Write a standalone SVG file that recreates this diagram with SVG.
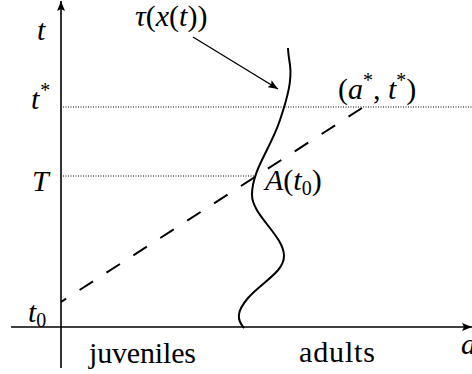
<svg xmlns="http://www.w3.org/2000/svg" width="472" height="374" viewBox="0 0 472 374">
<style>
.axis{stroke:#000;stroke-width:1.6;fill:none}
.dot{stroke:#000;stroke-width:1;stroke-dasharray:1 1.5;fill:none}
.dash{stroke:#000;stroke-width:2;stroke-dasharray:16 16;fill:none}
.curve{stroke:#000;stroke-width:2;fill:none}
text{font-family:'Liberation Serif','Times New Roman',serif;font-size:30px;fill:#000}
.m{font-style:italic}
.s{font-size:20px}
</style>
<defs>
<marker id="ah" viewBox="0 0 10 8" refX="10" refY="4" markerWidth="10" markerHeight="8" markerUnits="userSpaceOnUse" orient="auto">
<path d="M0,0 L10,4 L0,8 L2,4 Z" fill="#000"/>
</marker>
</defs>
<g id="connectors">
<line class="axis" x1="61" y1="368" x2="61" y2="1" marker-end="url(#ah)"/>
<line class="axis" x1="11" y1="327" x2="472" y2="327" marker-end="url(#ah)"/>
<line class="dot" x1="63" y1="107" x2="472" y2="107"/>
<line class="dot" x1="63" y1="176" x2="254" y2="176"/>
<line class="dash" x1="362" y1="108" x2="61" y2="302"/>
<path class="curve" d="M244,328 C237,320 236,312 248,298 C262,282 284,272 284,256 C284,236 252,215 252,195 C252,170 270,150 280,120 C288,96 292,80 290,65 C289,58 288,52 288,48"/>
<line stroke="#000" stroke-width="1.4" x1="193" y1="37" x2="278" y2="89" marker-end="url(#ah)"/>
</g>
<g id="labels">
<text class="m" x="37" y="40">t</text>
<text class="m" x="31" y="109">t<tspan class="s" dy="-12">*</tspan></text>
<text class="m" x="32" y="191">T</text>
<text class="m" x="28" y="322">t<tspan class="s" font-style="normal" dy="5">0</tspan></text>
<text x="135" y="26"><tspan class="m">τ</tspan>(<tspan class="m">x</tspan>(<tspan class="m">t</tspan>))</text>
<text x="338" y="99">(<tspan class="m">a</tspan><tspan class="s" dy="-12">*</tspan><tspan dy="12">, </tspan><tspan class="m">t</tspan><tspan class="s" dy="-12">*</tspan><tspan dy="12">)</tspan></text>
<text x="265" y="190"><tspan class="m">A</tspan>(<tspan class="m">t</tspan><tspan class="s" dy="5">0</tspan><tspan dy="-5">)</tspan></text>
<text x="89" y="363" textLength="107">juveniles</text>
<text x="299" y="362" textLength="76">adults</text>
<text class="m" x="461" y="354">a</text>
</g>
</svg>
